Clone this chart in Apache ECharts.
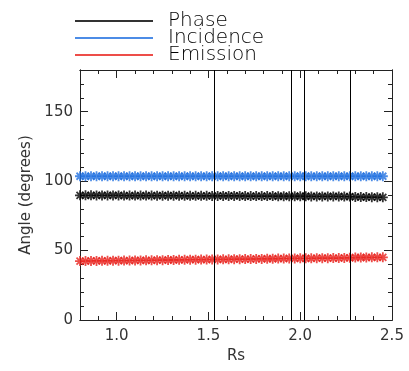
<!DOCTYPE html>
<html><head><meta charset="utf-8">
<script src="https://cdn.jsdelivr.net/npm/echarts@6/dist/echarts.min.js"></script>
<style>html,body{margin:0;padding:0;background:#fff}#c{width:409px;height:371px}</style>
</head><body><div id="c"></div>
<script>
var seriesNames = ['Phase', 'Incidence', 'Emission'];
var seriesColors = ['#000000', '#1f6fe0', '#e8201c'];
var rs = [0.80,0.83,0.86,0.89,0.92,0.95,0.98,1.01,1.04,1.07,1.10,1.13,1.16,1.19,1.22,1.25,1.28,1.31,1.34,1.37,1.40,1.43,1.46,1.49,1.52,1.55,1.58,1.61,1.64,1.67,1.70,1.73,1.76,1.79,1.82,1.85,1.88,1.91,1.94,1.97,2.00,2.03,2.06,2.09,2.12,2.15,2.18,2.21,2.24,2.27,2.30,2.33,2.36,2.39,2.42,2.45];
var phase = [89.8,89.8,89.8,89.7,89.7,89.7,89.7,89.7,89.6,89.6,89.6,89.6,89.6,89.6,89.5,89.5,89.5,89.5,89.5,89.4,89.4,89.4,89.4,89.4,89.3,89.3,89.3,89.3,89.3,89.3,89.2,89.2,89.2,89.2,89.2,89.2,89.1,89.1,89.1,89.1,89.1,89.1,89.0,89.0,89.0,89.0,89.0,89.0,88.9,88.9,88.6,88.5,88.5,88.4,88.4,88.3];
var incidence = [103.5,103.5,103.5,103.5,103.5,103.5,103.5,103.5,103.5,103.5,103.5,103.5,103.5,103.5,103.5,103.5,103.5,103.5,103.5,103.5,103.5,103.5,103.5,103.5,103.5,103.5,103.5,103.5,103.5,103.5,103.5,103.5,103.5,103.5,103.5,103.5,103.5,103.5,103.5,103.5,103.5,103.5,103.5,103.5,103.5,103.5,103.5,103.5,103.5,103.5,103.5,103.5,103.5,103.5,103.5,103.5];
var emission = [42.4,42.4,42.5,42.5,42.6,42.6,42.7,42.7,42.8,42.8,42.9,42.9,43.0,43.0,43.1,43.1,43.2,43.2,43.3,43.3,43.4,43.4,43.5,43.5,43.6,43.6,43.7,43.7,43.8,43.8,43.9,43.9,44.0,44.0,44.1,44.1,44.2,44.2,44.3,44.3,44.4,44.4,44.4,44.5,44.5,44.5,44.6,44.6,44.7,44.8,45.0,45.0,45.0,45.1,45.1,45.1];
var markerLines = [1.527, 1.953, 2.024, 2.269];
var xTickLabels = [1.0, 1.5, 2.0, 2.5];
var yTickLabels = [0, 50, 100, 150];
var xRange = [0.8, 2.5];
var yRange = [0, 180];

var font = 'DejaVu Sans';
var values = [phase, incidence, emission];
var asterisk = 'path://M0,5L10,5M5,0L5,10M1.5,1.5L8.5,8.5M8.5,1.5L1.5,8.5';

function xAx(pos, major, show) {
  return {
    type: 'value', position: pos, min: xRange[0], max: xRange[1],
    interval: 0.1,
    axisLine: {show: true, onZero: false, lineStyle: {color: '#222', width: 1}},
    axisTick: major ? {show: true, inside: true, length: 8, customValues: xTickLabels, lineStyle: {color: '#222'}}
                    : {show: true, inside: true, length: 4, lineStyle: {color: '#222'}},
    splitLine: {show: false},
    axisLabel: show ? {
      show: true, margin: 9, fontFamily: font, fontSize: 15, color: '#333',
      customValues: xTickLabels,
      formatter: function (v) { return v.toFixed(1); }
    } : {show: false},
    name: show ? 'Rs' : '', nameLocation: 'middle', nameGap: 28,
    nameTextStyle: {fontFamily: font, fontSize: 15, color: '#333'}
  };
}
function yAx(pos, major, show) {
  return {
    type: 'value', position: pos, min: yRange[0], max: yRange[1],
    interval: 10,
    axisLine: {show: true, onZero: false, lineStyle: {color: '#222', width: 1}},
    axisTick: major ? {show: true, inside: true, length: 8, customValues: yTickLabels, lineStyle: {color: '#222'}}
                    : {show: true, inside: true, length: 4, lineStyle: {color: '#222'}},
    splitLine: {show: false},
    axisLabel: show ? {
      show: true, margin: 7, fontFamily: font, fontSize: 15, color: '#333',
      customValues: yTickLabels,
      formatter: function (v) { return String(v); }
    } : {show: false},
    name: show ? 'Angle (degrees)' : '', nameLocation: 'middle', nameGap: 42,
    nameTextStyle: {fontFamily: font, fontSize: 15, color: '#333'}
  };
}

var series = [];
for (var i = 0; i < 3; i++) {
  var d = [];
  for (var j = 0; j < rs.length; j++) d.push([rs[j], values[i][j]]);
  series.push({
    name: seriesNames[i], type: 'scatter', data: d, symbol: asterisk, symbolSize: 10,
    color: seriesColors[i],
    itemStyle: {color: 'none', borderColor: seriesColors[i], borderWidth: 1.8},
    silent: true, animation: false
  });
}
series.push({
  type: 'line', data: [], silent: true, animation: false,
  markLine: {
    symbol: 'none', silent: true, label: {show: false},
    lineStyle: {color: '#000', width: 1, type: 'solid'},
    data: markerLines.map(function (v) { return {xAxis: v}; })
  }
});

var chart = echarts.init(document.getElementById('c'), null, {renderer: 'canvas'});
chart.setOption({
  animation: false,
  backgroundColor: '#fff',
  grid: {left: 80, right: 17, top: 70, bottom: 51, containLabel: false},
  legend: {
    orient: 'vertical', left: 75, top: 11, itemGap: -3, padding: 0,
    itemWidth: 78, itemHeight: 2,
    data: seriesNames.map(function (n, k) { return {name: n, icon: 'rect', itemStyle: {color: seriesColors[k], borderWidth: 0}}; }),
    textStyle: {fontFamily: font, fontSize: 20, fontWeight: 200, lineHeight: 17, color: '#000', padding: [0, 0, 0, 10]}
  },
  xAxis: [xAx('bottom', true, true), xAx('bottom', false, false), xAx('top', true, false), xAx('top', false, false)],
  yAxis: [yAx('left', true, true), yAx('left', false, false), yAx('right', true, false), yAx('right', false, false)],
  series: series
});
</script></body></html>
